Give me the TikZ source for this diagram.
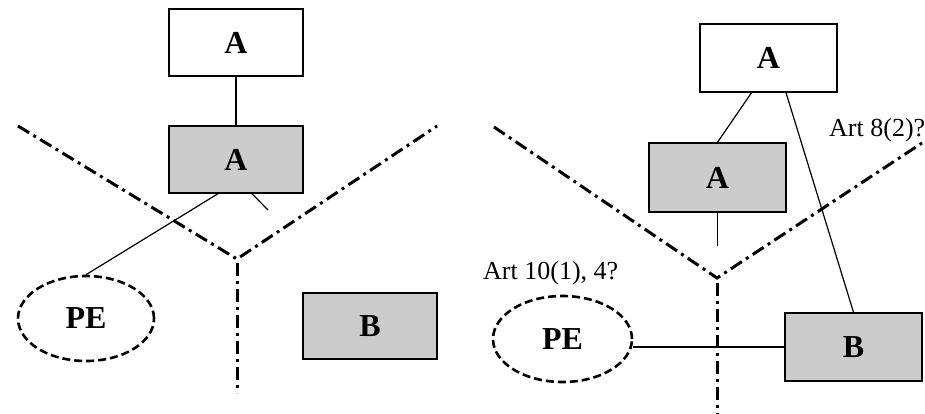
\documentclass[tikz,border=0pt]{standalone}
\usepackage{fontspec}
\setmainfont{Liberation Serif}
\usetikzlibrary{shapes.geometric,calc}
\tikzset{
  box/.style={draw=black, line width=1.4pt, rectangle, inner sep=0pt,
    font=\fontsize{32}{38}\selectfont\bfseries},
  whitebox/.style={box, fill=white},
  graybox/.style={box, fill=black!20},
  pe/.style={draw=black, ellipse, dashed, dash pattern=on 8pt off 4pt, line width=2.6pt, inner sep=0pt,
    font=\fontsize{32}{38}\selectfont\bfseries},
  conn/.style={draw=black, line width=1.2pt},
  border/.style={draw=black, line width=3pt, dash pattern=on 13pt off 5pt on 3pt off 5pt},
  note/.style={font=\fontsize{26}{30}\selectfont, inner sep=0pt}
}
\begin{document}
\begin{tikzpicture}[x=1pt,y=-1pt]
\useasboundingbox (0,0) rectangle (925,414);
% ---------- left panel ----------
\draw[border] (18,126) -- (237,259) -- (437,126);
\draw[border] (237,263) -- (237,393);
\node[whitebox, minimum width=134pt, minimum height=67pt] (tA) at (236,42.5) {A};
\node[graybox, minimum width=134pt, minimum height=67pt] (gA) at (236,159.5) {A};
\node[graybox, minimum width=134pt, minimum height=66pt] (B) at (370,326) {B};
\node[pe, minimum width=136pt, minimum height=85pt] (PE) at (86,318.5) {PE};
\coordinate (endL) at (268,210);
\draw[conn] (tA.south) -- (gA.north);
\draw[conn] ($(gA.south)+(-18,0)$) -- (PE.north);
\draw[conn] ($(gA.south)+(16,0)$) -- (endL);
% ---------- right panel ----------
\draw[border] (494,127) -- (717,278) -- (922,143);
\draw[border] (717,283) -- (717,414);
\node[whitebox, minimum width=137pt, minimum height=68pt] (tA2) at (768.5,58) {A};
\node[graybox, minimum width=137pt, minimum height=69pt] (gA2) at (717.5,177.5) {A};
\node[graybox, minimum width=137pt, minimum height=68pt] (B2) at (853.5,347) {B};
\node[pe, minimum width=139pt, minimum height=86pt] (PE2) at (562.5,339) {PE};
\coordinate (endR) at (717.5,246);
\draw[conn] ($(tA2.south)+(-17,0)$) -- (gA2.north);
\draw[conn] ($(tA2.south)+(17.5,0)$) -- (B2.north);
\draw[conn] (gA2.south) -- (endR);
\draw[conn] (B2.west) -- (B2.west -| PE2.east);
\node[note, anchor=base west] (n1) at (829,137) {Art 8(2)?};
\node[note, anchor=base west] (n2) at (483,279) {Art 10(1), 4?};
\end{tikzpicture}
\end{document}
